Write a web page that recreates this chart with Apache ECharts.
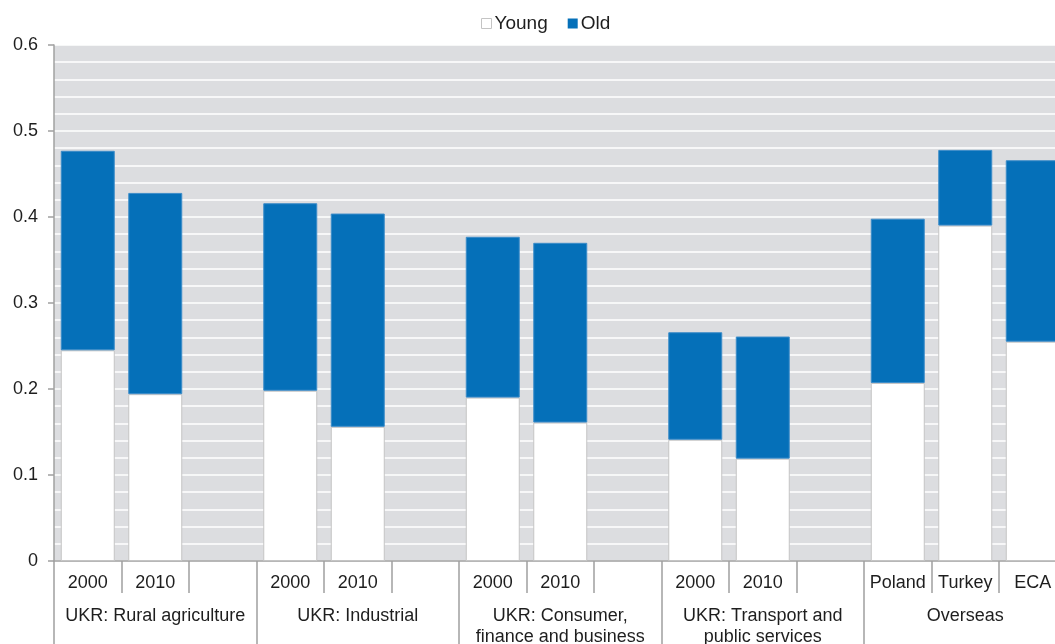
<!DOCTYPE html>
<html>
<head>
<meta charset="utf-8">
<script src="https://cdn.jsdelivr.net/npm/echarts@6/dist/echarts.min.js"></script>
<style>
  html, body { margin: 0; padding: 0; background: #fff; }
  #chart { width: 1055px; height: 644px; }
</style>
</head>
<body>
<div id="chart"></div>
<script>
// slots: three per group, the third one left empty in the UKR groups
const slotLabels = ['2000', '2010', '', '2000', '2010', '', '2000', '2010', '', '2000', '2010', '', 'Poland', 'Turkey', 'ECA'];
const groupLabels = ['UKR: Rural agriculture', 'UKR: Industrial', 'UKR: Consumer,\nfinance and business', 'UKR: Transport and\npublic services', 'Overseas'];

const youngValues = [0.245, 0.194, null, 0.198, 0.156, null, 0.19, 0.161, null, 0.141, 0.119, null, 0.207, 0.39, 0.255];
const oldValues = [0.232, 0.234, null, 0.218, 0.248, null, 0.187, 0.209, null, 0.125, 0.142, null, 0.191, 0.088, 0.211];

const yTicks = { min: 0, max: 0.6, interval: 0.1 };

const textColor = '#1e1e1e';
const lineColor = '#a0a0a0';
const font = '"Liberation Sans", Arial, sans-serif';

const chart = echarts.init(document.getElementById('chart'));

chart.setOption({
  animation: false,
  textStyle: { fontFamily: font, color: textColor },
  legend: {
    top: 9,
    left: 476,
    icon: 'rect',
    itemWidth: 10,
    itemHeight: 10,
    itemGap: 20,
    textStyle: { fontSize: 19, color: textColor, fontFamily: font, padding: [0, 0, 0, -2] },
    data: [
      { name: 'Young', itemStyle: { color: '#ffffff', borderColor: '#c4c4c4', borderWidth: 1 } },
      { name: 'Old', itemStyle: { color: '#0570b9', borderWidth: 0 } }
    ]
  },
  grid: {
    left: 54,
    top: 45,
    width: 1012.5,
    height: 516,
    outerBoundsMode: 'none',
    containLabel: false,
    show: true,
    backgroundColor: '#dcdde0',
    borderWidth: 0
  },
  xAxis: [
    {
      type: 'category',
      data: slotLabels,
      position: 'bottom',
      axisLine: { show: true, lineStyle: { color: lineColor, width: 1.5 } },
      axisTick: { show: true, interval: 0, length: 32, lineStyle: { color: lineColor, width: 1.5 } },
      axisLabel: {
        interval: 0,
        margin: 12,
        fontSize: 18,
        color: textColor,
        fontFamily: font,
        verticalAlign: 'top',
        lineHeight: 20,
        hideOverlap: false
      }
    },
    {
      type: 'category',
      data: groupLabels,
      position: 'bottom',
      offset: 0,
      axisLine: { show: false },
      axisTick: { show: true, interval: 0, length: 83, lineStyle: { color: lineColor, width: 1.5 } },
      axisLabel: {
        interval: 0,
        margin: 45,
        fontSize: 18,
        color: textColor,
        fontFamily: font,
        verticalAlign: 'top',
        lineHeight: 21,
        hideOverlap: false
      }
    }
  ],
  yAxis: {
    type: 'value',
    min: yTicks.min,
    max: yTicks.max,
    interval: yTicks.interval,
    axisLine: { show: true, lineStyle: { color: lineColor, width: 1.5 } },
    axisTick: { show: true, length: 6, lineStyle: { color: lineColor, width: 1.5 } },
    axisLabel: {
      margin: 16,
      fontSize: 18,
      color: textColor,
      fontFamily: font,
      formatter: v => (v === 0 ? '0' : v.toFixed(1))
    },
    splitLine: { show: true, lineStyle: { color: '#ffffff', width: 1.5 } },
    minorTick: { show: false, splitNumber: 5 },
    minorSplitLine: { show: true, lineStyle: { color: '#ffffff', width: 1.5 } }
  },
  series: [
    {
      name: 'Young',
      type: 'bar',
      stack: 'total',
      barWidth: '80%',
      data: youngValues,
      itemStyle: { color: '#ffffff', borderColor: '#c4c4c4', borderWidth: 1 }
    },
    {
      name: 'Old',
      type: 'bar',
      stack: 'total',
      barWidth: '80%',
      data: oldValues,
      itemStyle: { color: '#0570b9', borderColor: '#3d8cc9', borderWidth: 1 }
    }
  ]
});
</script>
</body>
</html>
